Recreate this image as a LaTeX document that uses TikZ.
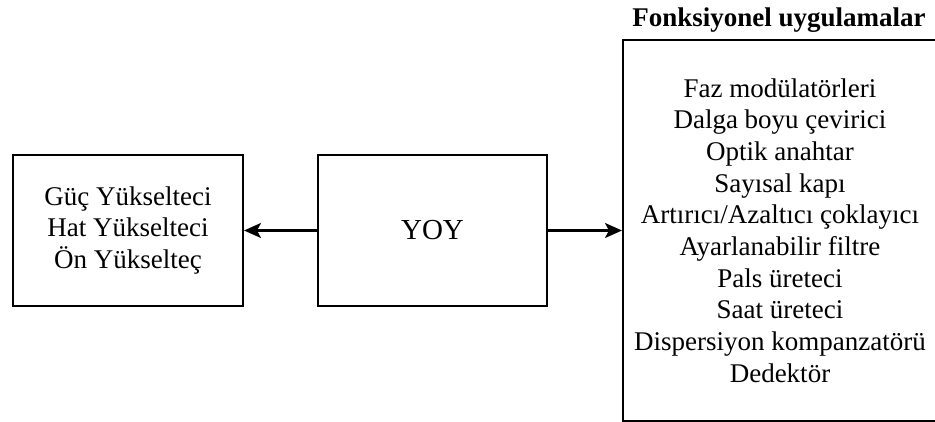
\documentclass[tikz,border=0pt]{standalone}
\usepackage{fontspec}
\setmainfont{Liberation Serif}
\usetikzlibrary{arrows.meta}
\tikzset{
  blk/.style={draw=black, line width=2pt, rectangle, inner sep=0pt, align=center,
    font=\fontsize{27}{31.7}\selectfont},
  conn/.style={line width=2.2pt, -{Stealth[length=17pt,width=15pt,inset=4pt]}},
  ttl/.style={inner sep=0pt, anchor=base, font=\fontsize{27}{31.7}\selectfont\bfseries}
}
\begin{document}
\begin{tikzpicture}[x=1pt,y=-1pt]
\useasboundingbox (0,0) rectangle (935,422);
\node[blk, minimum width=230pt, minimum height=151pt] (amp) at (128,230.5)
  {Güç Yükselteci\\Hat Yükselteci\\Ön Yükselteç};
\node[blk, minimum width=229pt, minimum height=151pt,
  font=\fontsize{29}{31.7}\selectfont] (yoy) at (432.5,230.5) {YOY};
\node[blk, minimum width=314pt, minimum height=381pt] (app) at (780,230.5)
  {Faz modülatörleri\\Dalga boyu çevirici\\Optik anahtar\\Sayısal kapı\\Artırıcı/Azaltıcı çoklayıcı\\Ayarlanabilir filtre\\Pals üreteci\\Saat üreteci\\Dispersiyon kompanzatörü\\Dedektör};
\node[ttl] (title) at (779,26.5) {Fonksiyonel uygulamalar};
\draw[conn] (yoy.west) -- (amp.east);
\draw[conn] (yoy.east) -- (app.west);
\end{tikzpicture}
\end{document}
